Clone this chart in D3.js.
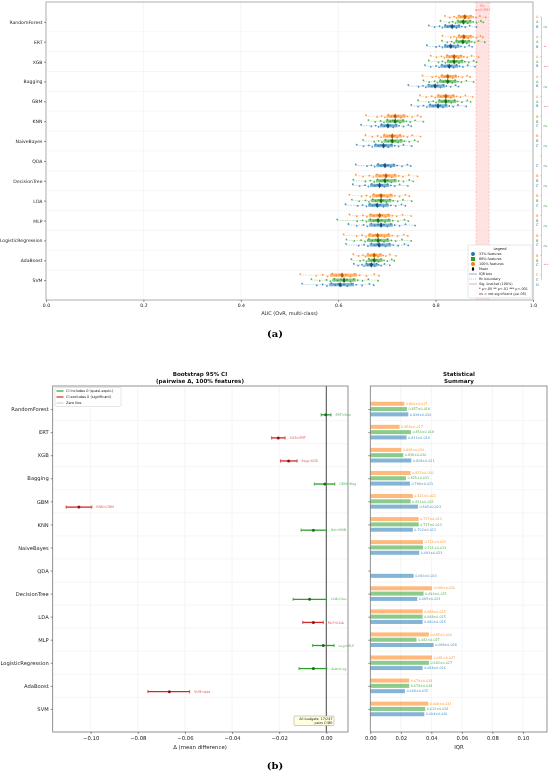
<!DOCTYPE html>
<html>
<head>
<meta charset="utf-8">
<script src="https://cdn.jsdelivr.net/npm/d3@7"></script>
<style>
body { margin: 0; background: #fff; }
svg { will-change: transform; }
text { font-family: "DejaVu Sans", sans-serif; -webkit-font-smoothing: antialiased; }
</style>
</head>
<body>
<svg id="fig" width="550" height="776"></svg>
<script>
// ---------- data ----------
var models = ["RandomForest", "ERT", "XGB", "Bagging", "GBM", "KNN", "NaiveBayes", "QDA",
    "DecisionTree", "LDA", "MLP", "LogisticRegression", "AdaBoost", "SVM"];
var budgets = ["100%", "66%", "33%"];

// per-seed AUC values read off the strips (null = budget not run)
var auc100 = [
    [.819,.829,.838,.843,.848,.852,.857,.860,.863,.868,.872,.877,.883,.891,.903],
    [.814,.831,.838,.843,.848,.852,.855,.859,.862,.867,.872,.877,.884,.892,.897],
    [.790,.802,.812,.818,.824,.829,.834,.838,.842,.847,.852,.858,.865,.874,.888],
    [.773,.793,.801,.807,.813,.818,.822,.826,.830,.835,.841,.847,.855,.865,.871],
    [.768,.781,.792,.799,.806,.811,.817,.821,.825,.831,.836,.843,.851,.861,.876],
    [.657,.680,.689,.696,.703,.709,.714,.718,.723,.729,.735,.742,.752,.763,.770],
    [.656,.670,.681,.688,.695,.701,.706,.711,.716,.721,.727,.734,.742,.752,.769],
    null,
    [.636,.651,.664,.672,.680,.686,.693,.698,.703,.710,.716,.724,.733,.745,.763],
    [.623,.648,.658,.666,.673,.679,.684,.689,.694,.701,.708,.716,.726,.738,.746],
    [.623,.638,.651,.659,.667,.673,.680,.685,.690,.697,.703,.711,.720,.732,.750],
    [.611,.638,.649,.657,.665,.672,.677,.682,.688,.695,.703,.711,.722,.735,.743],
    [.631,.642,.651,.656,.661,.666,.670,.674,.678,.682,.687,.692,.698,.706,.719],
    [.522,.555,.568,.578,.588,.596,.603,.610,.616,.625,.634,.644,.658,.674,.684]
];
var auc66 = [
    [.810,.828,.835,.841,.846,.851,.854,.858,.862,.866,.871,.877,.884,.893,.898],
    [.813,.824,.833,.838,.843,.848,.852,.856,.860,.864,.869,.874,.880,.888,.901],
    [.786,.806,.814,.820,.826,.831,.835,.839,.843,.848,.854,.860,.868,.878,.884],
    [.775,.787,.798,.804,.810,.816,.821,.825,.829,.834,.840,.846,.853,.863,.878],
    [.764,.786,.795,.801,.808,.813,.818,.822,.827,.832,.839,.845,.854,.865,.872],
    [.662,.676,.687,.694,.701,.707,.712,.717,.722,.727,.733,.740,.748,.758,.775],
    [.651,.674,.683,.690,.697,.703,.708,.712,.717,.723,.729,.736,.746,.757,.764],
    null,
    [.631,.656,.666,.674,.681,.687,.692,.697,.702,.709,.716,.724,.734,.746,.754],
    [.628,.643,.656,.663,.671,.677,.683,.688,.693,.699,.706,.713,.722,.733,.751],
    [.598,.639,.650,.658,.666,.673,.678,.683,.689,.696,.704,.712,.723,.736,.744],
    [.617,.633,.647,.655,.663,.670,.677,.682,.687,.694,.701,.709,.718,.731,.750],
    [.627,.645,.652,.658,.663,.668,.671,.675,.679,.683,.688,.694,.701,.710,.715],
    [.545,.562,.576,.584,.592,.599,.606,.612,.618,.625,.632,.640,.650,.662,.682]
];
var auc33 = [
    [.786,.798,.808,.814,.820,.825,.830,.834,.838,.843,.848,.854,.861,.870,.884],
    [.782,.801,.808,.814,.820,.824,.828,.832,.836,.841,.846,.852,.860,.869,.875],
    [.778,.790,.801,.807,.813,.819,.824,.828,.832,.837,.843,.849,.856,.866,.881],
    [.744,.765,.774,.780,.786,.792,.796,.800,.804,.810,.816,.822,.831,.841,.847],
    [.750,.764,.775,.782,.789,.795,.800,.805,.810,.815,.821,.828,.836,.846,.863],
    [.647,.668,.677,.683,.689,.695,.699,.703,.707,.713,.719,.725,.734,.744,.750],
    [.638,.652,.663,.670,.677,.683,.688,.693,.698,.703,.709,.716,.724,.734,.751],
    [.636,.659,.668,.675,.682,.688,.693,.697,.702,.708,.714,.721,.731,.742,.749],
    [.630,.644,.655,.662,.669,.675,.680,.685,.690,.695,.701,.708,.716,.726,.743],
    [.615,.640,.650,.658,.665,.671,.676,.681,.686,.693,.700,.708,.718,.730,.738],
    [.621,.638,.652,.660,.668,.675,.682,.688,.694,.701,.708,.716,.726,.738,.758],
    [.616,.642,.653,.661,.668,.675,.680,.685,.691,.697,.705,.713,.723,.736,.744],
    [.632,.641,.649,.653,.658,.661,.665,.668,.671,.675,.679,.683,.688,.695,.706],
    [.526,.556,.568,.577,.586,.594,.600,.606,.612,.619,.628,.637,.649,.664,.673]
];

// mean and sd shown in the summary panel
var mean100 = [.860,.858,.838,.825,.821,.717,.711,null,.698,.688,.685,.681,.674,.608];
var sd100   = [.017,.017,.020,.020,.022,.023,.023,null,.026,.025,.026,.027,.018,.033];
var mean66  = [.857,.856,.838,.825,.821,.717,.711,null,.696,.688,.682,.682,.674,.612];
var sd66    = [.018,.018,.020,.021,.022,.023,.023,null,.025,.025,.027,.027,.018,.028];
var mean33  = [.834,.831,.828,.799,.805,.702,.693,.696,.685,.680,.688,.684,.668,.604];
var sd33    = [.020,.019,.021,.021,.023,.021,.023,.023,.023,.025,.028,.026,.015,.030];

// IQR bar lengths
var iqr100 = [.0223,.0192,.0203,.0264,.0279,.0317,.0345,null,.0404,.0343,.0384,.0404,.0255,.0380];
var iqr66  = [.0240,.0266,.0216,.0234,.0264,.0317,.0345,null,.0349,.0343,.0303,.0384,.0255,.0360];
var iqr33  = [.0249,.0238,.0269,.0260,.0312,.0279,.0321,.0284,.0308,.0343,.0415,.0343,.0227,.0354];

// grade letters at the right margin of (a)
var grade100 = ["A","A","A","A","A","B","B",null,"B","B","B","B","B","C"];
var grade66  = ["A","A","A","A","A","B","B",null,"B","B","B","B","B","C"];
var grade33  = ["B","B","B","B","B","C","C","C","C","C","C","C","C","D"];

// adjacent-pair significance (100% budget)
var sigMarks = ["ns","**","***","ns","***","ns","ns","ns","ns","ns","ns","ns","***"];

// bootstrap CI of pairwise delta (row i vs row i+1)
var ciLabels = ["ERT↔Ran","XGB↔ERT","Bag↔XGB","GBM↔Bag","KNN↔GBM","Nai↔KNN",null,null,
    "LDA↔Dec","MLP↔LDA","Log↔MLP","Ada↔Log","SVM↔Ada",null];
var ciMid = [-0.0002,-0.0204,-0.0160,-0.0006,-0.1050,-0.0055,null,null,-0.0071,-0.0055,-0.0013,-0.0055,-0.0666,null];
var ciLo  = [-0.0022,-0.0232,-0.0194,-0.0051,-0.1104,-0.0107,null,null,-0.0141,-0.0100,-0.0058,-0.0116,-0.0757,null];
var ciHi  = [ 0.0020,-0.0175,-0.0124, 0.0036,-0.0995, 0.0001,null,null, 0.0001,-0.0013, 0.0033, 0.0002,-0.0580,null];

var rcLow = 0.883, rcHigh = 0.910;

// ---------- helpers ----------
var svg = d3.select("#fig");
var col  = {"33%": "#1f77b4", "66%": "#2ca02c", "100%": "#ff7f0e"};
var dark = {"33%": "#164f78", "66%": "#1b6b1b", "100%": "#b85a08"};
var aucBy = {"100%": auc100, "66%": auc66, "33%": auc33};
var meanBy = {"100%": mean100, "66%": mean66, "33%": mean33};
var sdBy = {"100%": sd100, "66%": sd66, "33%": sd33};
var iqrBy = {"100%": iqr100, "66%": iqr66, "33%": iqr33};
var gradeBy = {"100%": grade100, "66%": grade66, "33%": grade33};
var offA = {"100%": -0.25, "66%": 0, "33%": 0.23};
var offB = {"100%": -0.23, "66%": 0, "33%": 0.23};
var jit = [-1.1, 0.7, -0.2, 1.2, -1.5, 0.3, -0.7, 1.0, -0.4, 1.5, -1.2, 0.1, 0.8, -0.9, 0.5];

var strips = [];
models.forEach(function(m, i) {
    budgets.forEach(function(b) {
        if (aucBy[b][i]) strips.push({i: i, b: b, vals: aucBy[b][i], mean: meanBy[b][i]});
    });
});

function styleTicks(g, fs) {
    g.select(".domain").remove();
    g.selectAll(".tick line").attr("stroke", "#444").attr("stroke-width", 0.6);
    g.selectAll("text").attr("font-size", fs).attr("fill", "#222");
}

// ---------- panel (a) ----------
var xA = d3.scaleLinear().domain([0, 1]).range([46, 533]);
var yA = d3.scaleLinear().domain([-1, 14]).range([2, 300]);
var gA = svg.append("g");

gA.selectAll(".vgrid").data([0.2, 0.4, 0.6, 0.8]).enter().append("line")
    .attr("x1", d => xA(d)).attr("x2", d => xA(d)).attr("y1", yA(-1)).attr("y2", yA(14))
    .attr("stroke", "#ececec").attr("stroke-width", 0.6);
gA.selectAll(".hgrid").data(d3.range(13)).enter().append("line")
    .attr("x1", xA(0)).attr("x2", xA(1)).attr("y1", d => yA(d + 0.5)).attr("y2", d => yA(d + 0.5))
    .attr("stroke", "#f0f0f0").attr("stroke-width", 0.6);

// Rc band
gA.append("rect").attr("x", xA(rcLow)).attr("y", yA(-1))
    .attr("width", xA(rcHigh) - xA(rcLow)).attr("height", yA(14) - yA(-1))
    .attr("fill", "#ffd6d6").attr("opacity", 0.7);
gA.selectAll(".rcline").data([rcLow, rcHigh]).enter().append("line")
    .attr("x1", d => xA(d)).attr("x2", d => xA(d)).attr("y1", yA(-1)).attr("y2", yA(14))
    .attr("stroke", "#f4a0a0").attr("stroke-width", 0.5).attr("stroke-dasharray", "2,1.5");
gA.append("text").attr("x", xA((rcLow + rcHigh) / 2)).attr("y", 6.5)
    .attr("text-anchor", "middle").attr("font-size", 3.6).attr("fill", "#f08080").text("Rc");
gA.append("text").attr("x", xA((rcLow + rcHigh) / 2)).attr("y", 11)
    .attr("text-anchor", "middle").attr("font-size", 3.6).attr("fill", "#f08080").text("α=0.897");

// strips
var sg = gA.selectAll(".strip").data(strips).enter().append("g");
sg.append("line")
    .attr("x1", d => xA(d3.min(d.vals))).attr("x2", d => xA(d3.max(d.vals)))
    .attr("y1", d => yA(d.i + offA[d.b])).attr("y2", d => yA(d.i + offA[d.b]))
    .attr("stroke", d => col[d.b]).attr("stroke-width", 0.5).attr("stroke-dasharray", "1.5,1").attr("opacity", 0.6);
sg.append("rect")
    .attr("x", d => xA(d3.quantile(d.vals, 0.25)))
    .attr("width", d => xA(d3.quantile(d.vals, 0.75)) - xA(d3.quantile(d.vals, 0.25)))
    .attr("y", d => yA(d.i + offA[d.b]) - 1.6).attr("height", 3.2)
    .attr("fill", d => col[d.b]).attr("opacity", 0.55);
sg.selectAll("circle").data(d => d.vals.map((v, j) => ({v: v, j: j, i: d.i, b: d.b}))).enter()
    .append("circle")
    .attr("cx", p => xA(p.v)).attr("cy", p => yA(p.i + offA[p.b]) + jit[p.j % jit.length])
    .attr("r", 0.9).attr("fill", p => col[p.b]).attr("opacity", 0.8);
sg.append("path")
    .attr("d", d3.symbol().type(d3.symbolDiamond).size(9))
    .attr("transform", d => "translate(" + xA(d.mean) + "," + yA(d.i + offA[d.b]) + ")")
    .attr("fill", d => dark[d.b]);

// grade letters right of the plot
gA.selectAll(".grade").data(strips).enter().append("text")
    .attr("x", 536).attr("y", d => yA(d.i + offA[d.b]) + 1.3)
    .attr("font-size", 3.6).attr("fill", d => col[d.b]).text(d => gradeBy[d.b][d.i]);

// significance bracket
gA.append("line").attr("x1", 541.5).attr("x2", 541.5).attr("y1", yA(-0.25)).attr("y2", yA(13))
    .attr("stroke", "#bbb").attr("stroke-width", 0.7);
gA.selectAll(".sigtick").data(d3.range(14)).enter().append("line")
    .attr("x1", 540).attr("x2", 541.5).attr("y1", d => yA(d - 0.25)).attr("y2", d => yA(d - 0.25))
    .attr("stroke", "#bbb").attr("stroke-width", 0.6);
gA.selectAll(".sig").data(sigMarks).enter().append("text")
    .attr("x", 543.5).attr("y", (d, i) => yA(i + 0.25) + 1.2)
    .attr("font-size", 3.2).attr("fill", d => d === "ns" ? "#2ca02c" : "#d62728").text(d => d);

// frame and axes
gA.append("rect").attr("x", xA(0)).attr("y", yA(-1)).attr("width", xA(1) - xA(0)).attr("height", yA(14) - yA(-1))
    .attr("fill", "none").attr("stroke", "#999").attr("stroke-width", 0.8);
gA.append("g").attr("transform", "translate(0," + yA(14) + ")")
    .call(d3.axisBottom(xA).tickValues([0, 0.2, 0.4, 0.6, 0.8, 1]).tickFormat(d3.format(".1f")).tickSize(2).tickPadding(1.5))
    .call(g => styleTicks(g, 4.6));
gA.append("g").attr("transform", "translate(" + xA(0) + ",0)")
    .call(d3.axisLeft(yA).tickValues(d3.range(14)).tickFormat(i => models[i]).tickSize(2).tickPadding(1.5))
    .call(g => styleTicks(g, 4.6));
gA.append("text").attr("x", (xA(0) + xA(1)) / 2).attr("y", 315).attr("text-anchor", "middle")
    .attr("font-size", 5).attr("fill", "#222").text("AUC (OvR, multi-class)");

// legend (a)
var lg = gA.append("g");
lg.append("rect").attr("x", 468).attr("y", 245).attr("width", 64).attr("height", 53)
    .attr("fill", "#fff").attr("fill-opacity", 0.92).attr("stroke", "#ccc").attr("stroke-width", 0.5).attr("rx", 1.5);
lg.append("text").attr("x", 500).attr("y", 249.5).attr("text-anchor", "middle").attr("font-size", 3.6).attr("fill", "#222").text("Legend");
var legItems = ["33% features", "66% features", "100% features", "Mean", "IQR box", "Rc boundary",
    "Sig. bracket (100%)", "* p<.05  ** p<.01  *** p<.001", "ns = not significant (p≥.05)"];
lg.selectAll(".lt").data(legItems).enter().append("text")
    .attr("x", 479).attr("y", (d, k) => 255.3 + k * 5).attr("font-size", 3.4).attr("fill", "#222").text(d => d);
lg.append("circle").attr("cx", 473).attr("cy", 254).attr("r", 2).attr("fill", col["33%"]);
lg.append("rect").attr("x", 471).attr("y", 257).attr("width", 4).attr("height", 4).attr("fill", col["66%"]);
lg.append("path").attr("d", d3.symbol().type(d3.symbolCircle).size(14)).attr("transform", "translate(473,264)").attr("fill", col["100%"]);
lg.append("line").attr("x1", 473).attr("x2", 473).attr("y1", 267).attr("y2", 271).attr("stroke", "#000").attr("stroke-width", 0.5);
lg.append("path").attr("d", d3.symbol().type(d3.symbolDiamond).size(6)).attr("transform", "translate(473,269)").attr("fill", "#000");
lg.append("line").attr("x1", 469).attr("x2", 477).attr("y1", 274).attr("y2", 274).attr("stroke", "#a6cbe8").attr("stroke-width", 1.4);
lg.append("line").attr("x1", 469).attr("x2", 477).attr("y1", 279).attr("y2", 279).attr("stroke", "#f08080").attr("stroke-width", 0.6).attr("stroke-dasharray", "1.2,0.8");
lg.append("line").attr("x1", 469).attr("x2", 477).attr("y1", 284).attr("y2", 284).attr("stroke", "#999").attr("stroke-width", 0.6);

// ---------- panel (b) left: bootstrap CI ----------
var xC = d3.scaleLinear().domain([-0.1161, 0.0092]).range([52.7, 348]);
var yB = d3.scaleLinear().domain([-1, 14]).range([386, 732]);
var gC = svg.append("g");

gC.selectAll(".vgrid").data([-0.10, -0.08, -0.06, -0.04, -0.02]).enter().append("line")
    .attr("x1", d => xC(d)).attr("x2", d => xC(d)).attr("y1", yB(-1)).attr("y2", yB(14))
    .attr("stroke", "#ececec").attr("stroke-width", 0.6);
gC.selectAll(".hgrid").data(d3.range(13)).enter().append("line")
    .attr("x1", xC.range()[0]).attr("x2", xC.range()[1]).attr("y1", d => yB(d + 0.5)).attr("y2", d => yB(d + 0.5))
    .attr("stroke", "#f0f0f0").attr("stroke-width", 0.6);
gC.append("line").attr("x1", xC(0)).attr("x2", xC(0)).attr("y1", yB(-1)).attr("y2", yB(14))
    .attr("stroke", "#555").attr("stroke-width", 1.1);

var ciRows = d3.range(14).filter(i => ciMid[i] !== null);
function ciCol(i) { return (ciLo[i] <= 0 && ciHi[i] >= 0) ? "#2ca02c" : "#d62728"; }
function ciDark(i) { return (ciLo[i] <= 0 && ciHi[i] >= 0) ? "#1b6b1b" : "#8c1515"; }
var cg = gC.selectAll(".ci").data(ciRows).enter().append("g");
cg.append("line").attr("x1", i => xC(ciLo[i])).attr("x2", i => xC(ciHi[i]))
    .attr("y1", i => yB(i + 0.25)).attr("y2", i => yB(i + 0.25))
    .attr("stroke", ciCol).attr("stroke-width", 1.3);
cg.append("line").attr("x1", i => xC(ciLo[i])).attr("x2", i => xC(ciLo[i]))
    .attr("y1", i => yB(i + 0.25) - 1.6).attr("y2", i => yB(i + 0.25) + 1.6)
    .attr("stroke", ciCol).attr("stroke-width", 0.8);
cg.append("line").attr("x1", i => xC(ciHi[i])).attr("x2", i => xC(ciHi[i]))
    .attr("y1", i => yB(i + 0.25) - 1.6).attr("y2", i => yB(i + 0.25) + 1.6)
    .attr("stroke", ciCol).attr("stroke-width", 0.8);
cg.append("circle").attr("cx", i => xC(ciMid[i])).attr("cy", i => yB(i + 0.25)).attr("r", 1.5).attr("fill", ciDark);
cg.append("text").attr("x", i => xC(ciHi[i]) + 4.5).attr("y", i => yB(i + 0.25) + 1.1)
    .attr("font-size", 3.3).attr("fill", ciCol).attr("opacity", 0.75).text(i => ciLabels[i]);

gC.append("rect").attr("x", xC.range()[0]).attr("y", yB(-1)).attr("width", xC.range()[1] - xC.range()[0])
    .attr("height", yB(14) - yB(-1)).attr("fill", "none").attr("stroke", "#777").attr("stroke-width", 0.8);
gC.append("g").attr("transform", "translate(0," + yB(14) + ")")
    .call(d3.axisBottom(xC).tickValues([-0.10, -0.08, -0.06, -0.04, -0.02, 0]).tickFormat(d3.format(".2f")).tickSize(2).tickPadding(2))
    .call(g => styleTicks(g, 5.3));
gC.append("g").attr("transform", "translate(" + xC.range()[0] + ",0)")
    .call(d3.axisLeft(yB).tickValues(d3.range(14)).tickFormat(i => models[i]).tickSize(2).tickPadding(2))
    .call(g => styleTicks(g, 5.2));
gC.append("text").attr("x", 200).attr("y", 749).attr("text-anchor", "middle").attr("font-size", 5.4).attr("fill", "#222")
    .text("Δ (mean difference)");
gC.append("text").attr("x", 200).attr("y", 376).attr("text-anchor", "middle").attr("font-size", 5.6)
    .attr("font-weight", "bold").attr("fill", "#111").text("Bootstrap 95% CI");
gC.append("text").attr("x", 200).attr("y", 382.5).attr("text-anchor", "middle").attr("font-size", 5.6)
    .attr("font-weight", "bold").attr("fill", "#111").text("(pairwise Δ, 100% features)");

// CI legend
var cl = gC.append("g");
cl.append("rect").attr("x", 55).attr("y", 387.5).attr("width", 66).attr("height", 19)
    .attr("fill", "#fff").attr("stroke", "#ccc").attr("stroke-width", 0.5).attr("rx", 1.2);
var ciLeg = [["CI includes 0 (quasi-equiv.)", "#2ca02c", 1.2], ["CI excludes 0 (significant)", "#d62728", 1.2], ["Zero line", "#aaa", 0.6]];
cl.selectAll(".cll").data(ciLeg).enter().append("line")
    .attr("x1", 56.5).attr("x2", 63.5).attr("y1", (d, k) => 391 + k * 6).attr("y2", (d, k) => 391 + k * 6)
    .attr("stroke", d => d[1]).attr("stroke-width", d => d[2]);
cl.selectAll(".clt").data(ciLeg).enter().append("text")
    .attr("x", 66).attr("y", (d, k) => 392.3 + k * 6).attr("font-size", 3.5).attr("fill", "#222").text(d => d[0]);

// annotation box
var an = gC.append("g");
an.append("rect").attr("x", 294).attr("y", 716).attr("width", 40).attr("height", 9.5)
    .attr("fill", "#ffffe0").attr("stroke", "#999").attr("stroke-width", 0.5).attr("rx", 1);
an.append("text").attr("x", 332.5).attr("y", 720).attr("text-anchor", "end").attr("font-size", 3.4).attr("fill", "#222").text("All budgets: 17/247");
an.append("text").attr("x", 332.5).attr("y", 724).attr("text-anchor", "end").attr("font-size", 3.4).attr("fill", "#222").text("pairs CI∌0");

// ---------- panel (b) right: IQR summary ----------
var xI = d3.scaleLinear().domain([0, 0.1158]).range([370.3, 547]);
var gI = svg.append("g");
gI.selectAll(".vgrid").data([0.02, 0.04, 0.06, 0.08, 0.10]).enter().append("line")
    .attr("x1", d => xI(d)).attr("x2", d => xI(d)).attr("y1", yB(-1)).attr("y2", yB(14))
    .attr("stroke", "#ececec").attr("stroke-width", 0.6);
gI.selectAll(".hgrid").data(d3.range(13)).enter().append("line")
    .attr("x1", xI.range()[0]).attr("x2", xI.range()[1]).attr("y1", d => yB(d + 0.5)).attr("y2", d => yB(d + 0.5))
    .attr("stroke", "#f0f0f0").attr("stroke-width", 0.6);

var bars = strips.filter(d => iqrBy[d.b][d.i] !== null);
gI.selectAll(".bar").data(bars).enter().append("rect")
    .attr("x", xI(0)).attr("y", d => yB(d.i + offB[d.b]) - 2)
    .attr("width", d => xI(iqrBy[d.b][d.i]) - xI(0)).attr("height", 4)
    .attr("fill", d => col[d.b]).attr("opacity", 0.55);
gI.selectAll(".val").data(bars).enter().append("text")
    .attr("x", d => xI(iqrBy[d.b][d.i]) + 1.5).attr("y", d => yB(d.i + offB[d.b]) + 1.2)
    .attr("font-size", 3.3).attr("fill", d => col[d.b]).attr("opacity", 0.85)
    .text(d => meanBy[d.b][d.i].toFixed(3) + "±" + sdBy[d.b][d.i].toFixed(3));

gI.append("rect").attr("x", xI.range()[0]).attr("y", yB(-1)).attr("width", xI.range()[1] - xI.range()[0])
    .attr("height", yB(14) - yB(-1)).attr("fill", "none").attr("stroke", "#777").attr("stroke-width", 0.8);
gI.append("g").attr("transform", "translate(0," + yB(14) + ")")
    .call(d3.axisBottom(xI).tickValues([0, 0.02, 0.04, 0.06, 0.08, 0.10]).tickFormat(d3.format(".2f")).tickSize(2).tickPadding(2))
    .call(g => styleTicks(g, 5.3));
gI.append("g").attr("transform", "translate(" + xI.range()[0] + ",0)")
    .call(d3.axisLeft(yB).tickValues(d3.range(14)).tickFormat("").tickSize(2))
    .call(g => styleTicks(g, 5));
gI.append("text").attr("x", 459).attr("y", 749).attr("text-anchor", "middle").attr("font-size", 5.4).attr("fill", "#222").text("IQR");
gI.append("text").attr("x", 459).attr("y", 376).attr("text-anchor", "middle").attr("font-size", 5.6)
    .attr("font-weight", "bold").attr("fill", "#111").text("Statistical");
gI.append("text").attr("x", 459).attr("y", 382.5).attr("text-anchor", "middle").attr("font-size", 5.6)
    .attr("font-weight", "bold").attr("fill", "#111").text("Summary");

// ---------- sub-figure labels ----------
svg.append("text").attr("x", 275).attr("y", 337).attr("text-anchor", "middle")
    .style("font-family", "'DejaVu Serif', 'Liberation Serif', serif").attr("font-size", 10).attr("font-weight", "bold").text("(a)");
svg.append("text").attr("x", 275).attr("y", 769).attr("text-anchor", "middle")
    .style("font-family", "'DejaVu Serif', 'Liberation Serif', serif").attr("font-size", 10).attr("font-weight", "bold").text("(b)");
</script>
</body>
</html>
